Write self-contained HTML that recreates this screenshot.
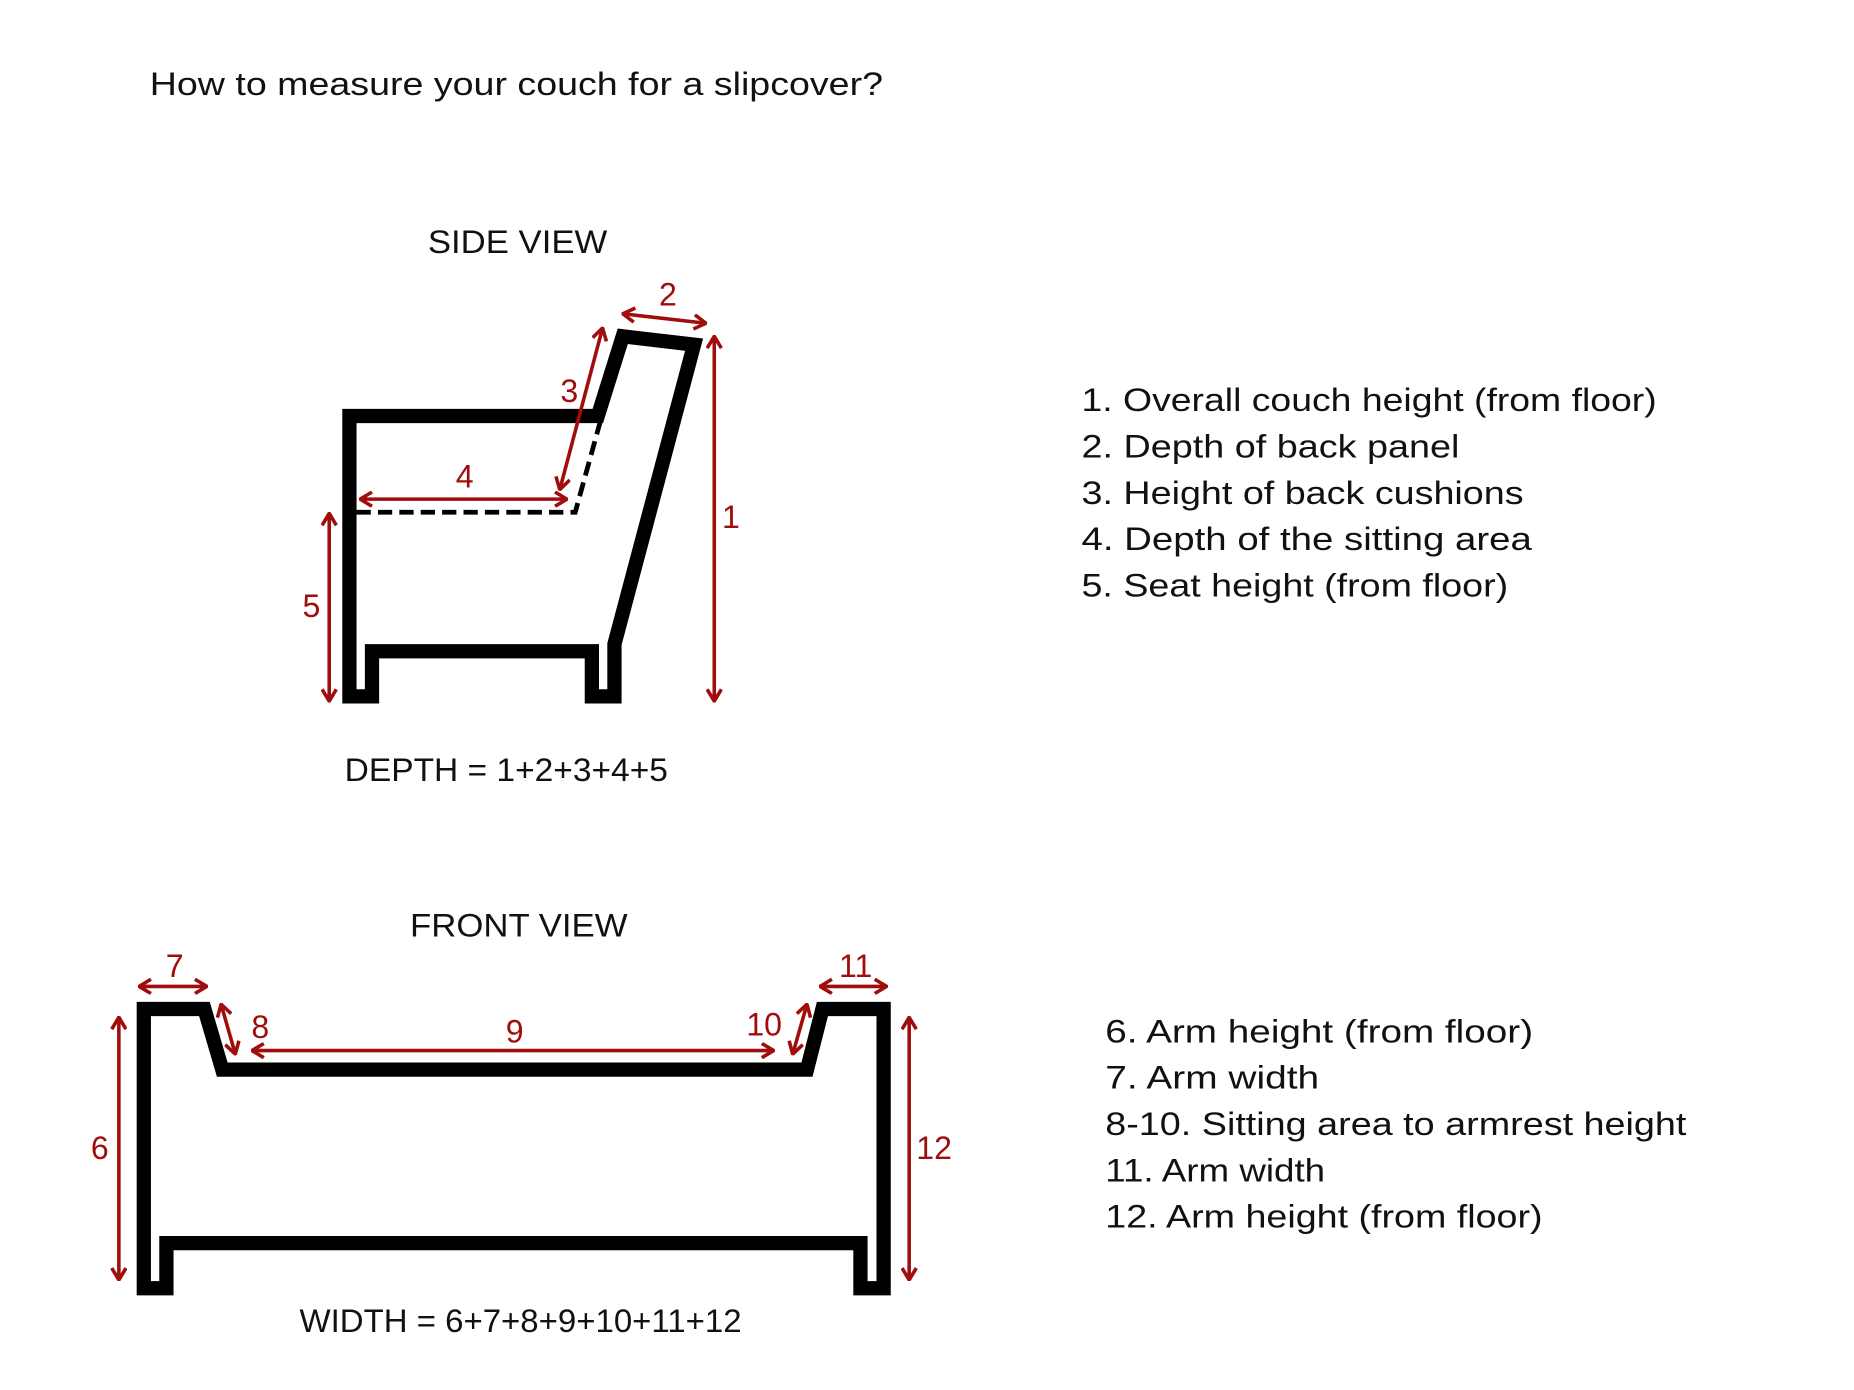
<!DOCTYPE html>
<html><head><meta charset="utf-8"><style>
html,body{margin:0;padding:0;background:#fff;width:1854px;height:1390px;overflow:hidden}
svg{display:block}
text{font-family:"Liberation Sans",sans-serif}
.t{font-size:27px;fill:#111}
.r{font-size:27px;fill:#a00d0d;text-anchor:middle;dominant-baseline:central}
.a{stroke:#a00d0d;stroke-width:3;fill:none;marker-start:url(#m);marker-end:url(#m)}
</style></head><body>
<svg width="1854" height="1390" viewBox="0 0 1560 1169.6" xmlns="http://www.w3.org/2000/svg">
<defs>
<marker id="m" viewBox="0 0 12 14" refX="11" refY="7" markerWidth="12" markerHeight="14" markerUnits="userSpaceOnUse" orient="auto-start-reverse">
<path d="M1,1 L11,7 L1,13" fill="none" stroke="#a00d0d" stroke-width="3"/>
</marker>
</defs>
<text class="t" x="126" y="80" textLength="617" lengthAdjust="spacingAndGlyphs">How to measure your couch for a slipcover?</text>
<text class="t" x="360" y="213" textLength="151" lengthAdjust="spacingAndGlyphs">SIDE VIEW</text>
<text class="t" x="290" y="657" textLength="272" lengthAdjust="spacingAndGlyphs">DEPTH = 1+2+3+4+5</text>
<text class="t" x="345" y="788" textLength="183" lengthAdjust="spacingAndGlyphs">FRONT VIEW</text>
<text class="t" x="252" y="1121" textLength="372" lengthAdjust="spacingAndGlyphs">WIDTH = 6+7+8+9+10+11+12</text>

<g class="t">
<text class="t" x="910" y="346" textLength="484" lengthAdjust="spacingAndGlyphs">1. Overall couch height (from floor)</text>
<text class="t" x="910" y="385" textLength="318" lengthAdjust="spacingAndGlyphs">2. Depth of back panel</text>
<text class="t" x="910" y="424" textLength="372" lengthAdjust="spacingAndGlyphs">3. Height of back cushions</text>
<text class="t" x="910" y="463" textLength="379" lengthAdjust="spacingAndGlyphs">4. Depth of the sitting area</text>
<text class="t" x="910" y="502" textLength="359" lengthAdjust="spacingAndGlyphs">5. Seat height (from floor)</text>
<text class="t" x="930" y="877" textLength="360" lengthAdjust="spacingAndGlyphs">6. Arm height (from floor)</text>
<text class="t" x="930" y="916" textLength="180" lengthAdjust="spacingAndGlyphs">7. Arm width</text>
<text class="t" x="930" y="955" textLength="489" lengthAdjust="spacingAndGlyphs">8-10. Sitting area to armrest height</text>
<text class="t" x="930" y="994" textLength="185" lengthAdjust="spacingAndGlyphs">11. Arm width</text>
<text class="t" x="930" y="1033" textLength="368" lengthAdjust="spacingAndGlyphs">12. Arm height (from floor)</text>
</g>

<!-- side view -->
<path d="M294,586 L294,350 L503,350 L524,283 L584,290 L517,542 L517,586 L498,586 L498,548 L313,548 L313,586 Z" fill="none" stroke="#000" stroke-width="12" stroke-linejoin="miter" stroke-miterlimit="10"/>
<path d="M300,431 L484,431 L505,355" fill="none" stroke="#000" stroke-width="4" stroke-dasharray="12,6"/>
<line class="a" x1="601" y1="283" x2="601" y2="590"/>
<line class="a" x1="524" y1="264" x2="594" y2="272"/>
<line class="a" x1="507" y1="276" x2="471" y2="412"/>
<line class="a" x1="303" y1="420" x2="477" y2="420"/>
<line class="a" x1="277" y1="432" x2="277" y2="590"/>
<text class="r" x="615" y="435">1</text>
<text class="r" x="562" y="248">2</text>
<text class="r" x="479" y="329">3</text>
<text class="r" x="391" y="401">4</text>
<text class="r" x="262" y="510">5</text>

<!-- front view -->
<path d="M121,1084 L121,849 L172,849 L187,900 L679,900 L692,849 L743.5,849 L743.5,1084 L724,1084 L724,1046 L140,1046 L140,1084 Z" fill="none" stroke="#000" stroke-width="12" stroke-linejoin="miter" stroke-miterlimit="10"/>
<line class="a" x1="117" y1="830" x2="174" y2="830"/>
<line class="a" x1="186" y1="845" x2="198" y2="887"/>
<line class="a" x1="212" y1="884" x2="651" y2="884"/>
<line class="a" x1="679" y1="845" x2="667" y2="887"/>
<line class="a" x1="690" y1="830" x2="746" y2="830"/>
<line class="a" x1="100" y1="856" x2="100" y2="1077"/>
<line class="a" x1="765" y1="856" x2="765" y2="1077"/>
<text class="r" x="147" y="813">7</text>
<text class="r" x="219" y="864">8</text>
<text class="r" x="433" y="868">9</text>
<text class="r" x="643" y="862">10</text>
<text class="r" x="720" y="813">11</text>
<text class="r" x="84" y="966">6</text>
<text class="r" x="786" y="966">12</text>
</svg>
</body></html>
